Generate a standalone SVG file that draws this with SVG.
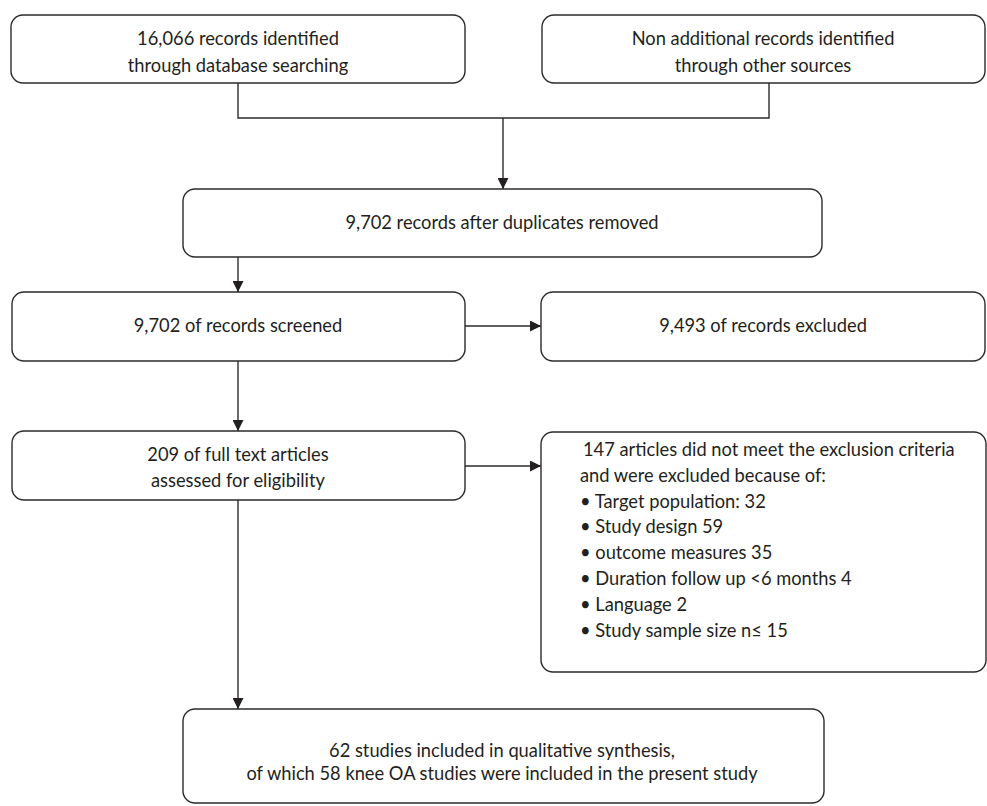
<svg xmlns="http://www.w3.org/2000/svg" width="987" height="806" viewBox="0 0 987 806">
<defs>
<style>
.box{fill:#fff;stroke:#2b2b2b;stroke-width:1.4}
.ln{fill:none;stroke:#2b2b2b;stroke-width:1.4}
text{font-family:Lato,"Open Sans","Liberation Sans",sans-serif;font-size:18.3px;fill:#231f20}
.c{text-anchor:middle}
</style>
<marker id="ah" viewBox="0 0 10 10" refX="10" refY="5" markerWidth="13" markerHeight="11" markerUnits="userSpaceOnUse" orient="auto">
<path d="M0,0 L10,5 L0,10 Z" fill="#231f20"/>
</marker>
</defs>
<rect width="987" height="806" fill="#fff"/>
<g id="connectors">
<polyline class="ln" points="238,83 238,118 769,118 769,83"/>
<line class="ln" x1="503" y1="118" x2="503" y2="189" marker-end="url(#ah)"/>
<line class="ln" x1="238" y1="257" x2="238" y2="292" marker-end="url(#ah)"/>
<line class="ln" x1="465" y1="326" x2="541" y2="326" marker-end="url(#ah)"/>
<line class="ln" x1="238" y1="361" x2="238" y2="431" marker-end="url(#ah)"/>
<line class="ln" x1="465" y1="466" x2="541" y2="466" marker-end="url(#ah)"/>
<line class="ln" x1="238" y1="500" x2="238" y2="709" marker-end="url(#ah)"/>
</g>
<g id="n1">
<rect class="box" x="11" y="15" width="454" height="68" rx="12"/>
<text class="c" x="238" y="45">16,066 records identified</text>
<text class="c" x="238" y="72">through database searching</text>
</g>
<g id="n2">
<rect class="box" x="542" y="15" width="443" height="68" rx="12"/>
<text class="c" x="763" y="45">Non additional records identified</text>
<text class="c" x="763" y="72">through other sources</text>
</g>
<g id="n3">
<rect class="box" x="183" y="189" width="639" height="68" rx="12"/>
<text class="c" x="502" y="229">9,702 records after duplicates removed</text>
</g>
<g id="n4">
<rect class="box" x="12" y="292" width="453" height="69" rx="12"/>
<text class="c" x="238" y="332">9,702 of records screened</text>
</g>
<g id="n5">
<rect class="box" x="541" y="292" width="444" height="69" rx="12"/>
<text class="c" x="763" y="332">9,493 of records excluded</text>
</g>
<g id="n6">
<rect class="box" x="12" y="431" width="453" height="69" rx="12"/>
<text class="c" x="238" y="461">209 of full text articles</text>
<text class="c" x="238" y="487">assessed for eligibility</text>
</g>
<g id="n7">
<rect class="box" x="541" y="432" width="445" height="240" rx="12"/>
<text x="583" y="456">147 articles did not meet the exclusion criteria</text>
<text x="580" y="482">and were excluded because of:</text>
<text x="580" y="508">• Target population: 32</text>
<text x="580" y="533">• Study design 59</text>
<text x="580" y="559">• outcome measures 35</text>
<text x="580" y="585">• Duration follow up &lt;6 months 4</text>
<text x="580" y="611">• Language 2</text>
<text x="580" y="637">• Study sample size n≤ 15</text>
</g>
<g id="n8">
<rect class="box" x="183" y="709" width="641" height="94" rx="12"/>
<text class="c" x="502" y="757">62 studies included in qualitative synthesis,</text>
<text class="c" x="502" y="780">of which 58 knee OA studies were included in the present study</text>
</g>
</svg>
